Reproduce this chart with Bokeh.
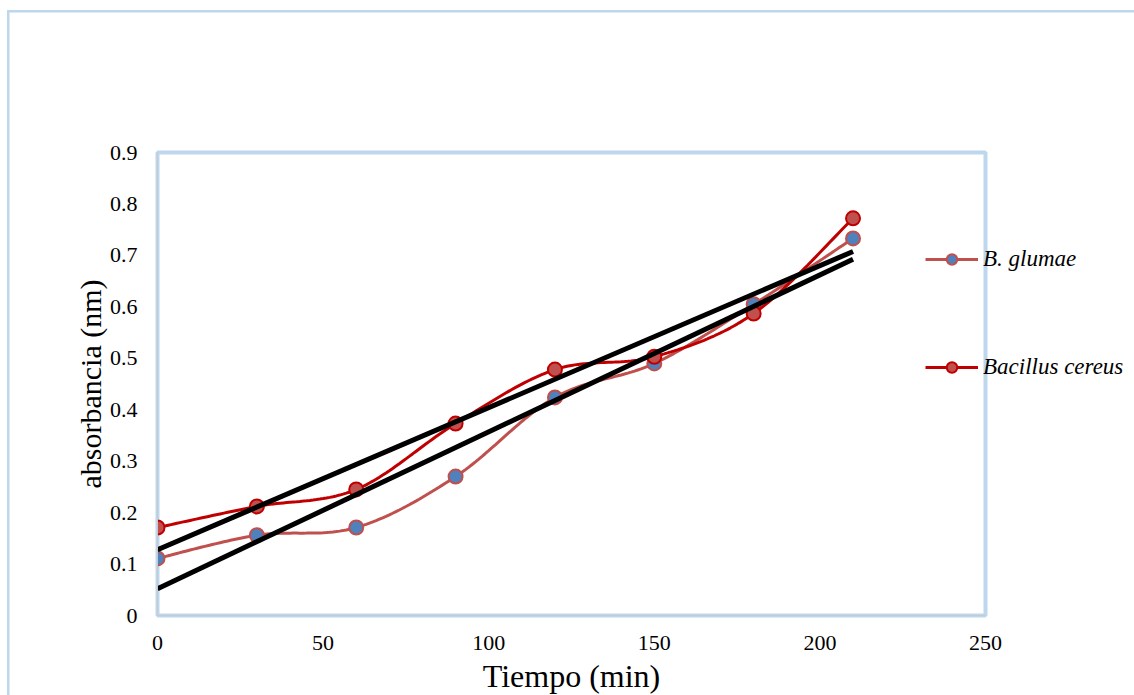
from bokeh.plotting import figure
from bokeh.models import Range1d, FixedTicker, Legend, LegendItem
from bokeh.embed import file_html
from bokeh.resources import INLINE
import numpy as np

# ---- data ----
tiempo = [0, 30, 60, 90, 120, 150, 180, 210]
glumae = [0.111, 0.156, 0.171, 0.270, 0.424, 0.490, 0.605, 0.733]
cereus = [0.171, 0.212, 0.245, 0.373, 0.478, 0.503, 0.587, 0.772]
# linear trendlines (intercept, slope)
trend_glumae = [0.052, 0.00305]
trend_cereus = [0.128, 0.00276]
x_ticks = [0, 50, 100, 150, 200, 250]
y_ticks = [0, 0.1, 0.2, 0.3, 0.4, 0.5, 0.6, 0.7, 0.8, 0.9]
y_tick_labels = ["0", "0.1", "0.2", "0.3", "0.4", "0.5", "0.6", "0.7", "0.8", "0.9"]
series_names = ["B. glumae", "Bacillus cereus"]

FONT = "Liberation Serif"
BLUE_BORDER = "#BDD7EE"


def smooth(xs, ys, n=30):
    """Excel-like smoothed line: cubic Bezier with Catmull-Rom control points."""
    P = np.column_stack([np.asarray(xs, float), np.asarray(ys, float)])
    out = []
    for i in range(len(P) - 1):
        p0 = P[i - 1] if i > 0 else P[i]
        p1 = P[i]
        p2 = P[i + 1]
        p3 = P[i + 2] if i + 2 < len(P) else P[i + 1]
        c1 = p1 + (p2 - p0) / 6.0
        c2 = p2 - (p3 - p1) / 6.0
        t = np.linspace(0, 1, n, endpoint=(i == len(P) - 2))[:, None]
        b = ((1 - t) ** 3) * p1 + 3 * ((1 - t) ** 2) * t * c1 + 3 * (1 - t) * t ** 2 * c2 + t ** 3 * p2
        out.append(b)
    out = np.vstack(out)
    return out[:, 0], out[:, 1]


bg = ("linear-gradient(%s,%s) 7px 10px / 2.5px 100%% no-repeat, "
      "linear-gradient(%s,%s) 7px 10px / 100%% 2.5px no-repeat, white") % ((BLUE_BORDER,) * 4)

p = figure(frame_width=828, frame_height=463, output_backend="svg", toolbar_location=None,
           x_range=Range1d(0, 250), y_range=Range1d(0, 0.9),
           min_border_left=157, min_border_right=149, min_border_top=152,
           min_border_bottom=80, styles={"background": bg})

p.background_fill_color = "white"
p.border_fill_color = None
p.outline_line_color = BLUE_BORDER
p.outline_line_width = 4
p.xgrid.visible = False
p.ygrid.visible = False

for ax in (p.xaxis[0], p.yaxis[0]):
    ax.major_tick_line_color = None
    ax.minor_tick_line_color = None
    ax.axis_line_color = "#C9C9C9"
    ax.axis_line_width = 1
    ax.major_label_text_font = FONT
    ax.major_label_text_font_size = "22px"
    ax.major_label_text_color = "black"
    ax.axis_label_text_font = FONT
    ax.axis_label_text_font_style = "normal"
    ax.axis_label_text_color = "black"

p.xaxis.ticker = FixedTicker(ticks=x_ticks)
p.yaxis.ticker = FixedTicker(ticks=y_ticks)
p.yaxis.major_label_overrides = {t: l for t, l in zip(y_ticks, y_tick_labels)}
p.xaxis.major_label_standoff = 14
p.yaxis.major_label_standoff = 14
p.xaxis.axis_label = "Tiempo (min)"
p.yaxis.axis_label = "absorbancia (nm)"
p.xaxis.axis_label_text_font_size = "32px"
p.yaxis.axis_label_text_font_size = "30px"
p.xaxis.axis_label_standoff = 5
p.yaxis.axis_label_standoff = 0

# series
gx, gy = smooth(tiempo, glumae)
cx, cy = smooth(tiempo, cereus)
gl = p.line(gx, gy, line_color="#C0504D", line_width=3)
gs = p.scatter(tiempo, glumae, size=14, fill_color="#4F81BD", line_color="#C0504D", line_width=2)
cl = p.line(cx, cy, line_color="#C00000", line_width=3)
cs = p.scatter(tiempo, cereus, size=14, fill_color="#C0504D", line_color="#C00000", line_width=2)

# trendlines
tx = np.array([tiempo[0], tiempo[-1]], float)
p.line(tx, trend_glumae[0] + trend_glumae[1] * tx, line_color="black", line_width=5)
p.line(tx, trend_cereus[0] + trend_cereus[1] * tx, line_color="black", line_width=5)

legend = Legend(items=[LegendItem(label=series_names[0], renderers=[gl, gs]),
                       LegendItem(label=series_names[1], renderers=[cl, cs])],
                location=(-60, 235), orientation="vertical")
legend.glyph_width = 53
legend.glyph_height = 26
legend.spacing = 82
legend.padding = 0
legend.margin = -30
legend.label_standoff = 5
legend.border_line_color = None
legend.background_fill_alpha = 0
legend.label_text_font = FONT
legend.label_text_font_style = "italic"
legend.label_text_font_size = "23px"
legend.label_text_color = "black"
p.add_layout(legend, "right")

open("out.html", "w").write(file_html(p, INLINE))
